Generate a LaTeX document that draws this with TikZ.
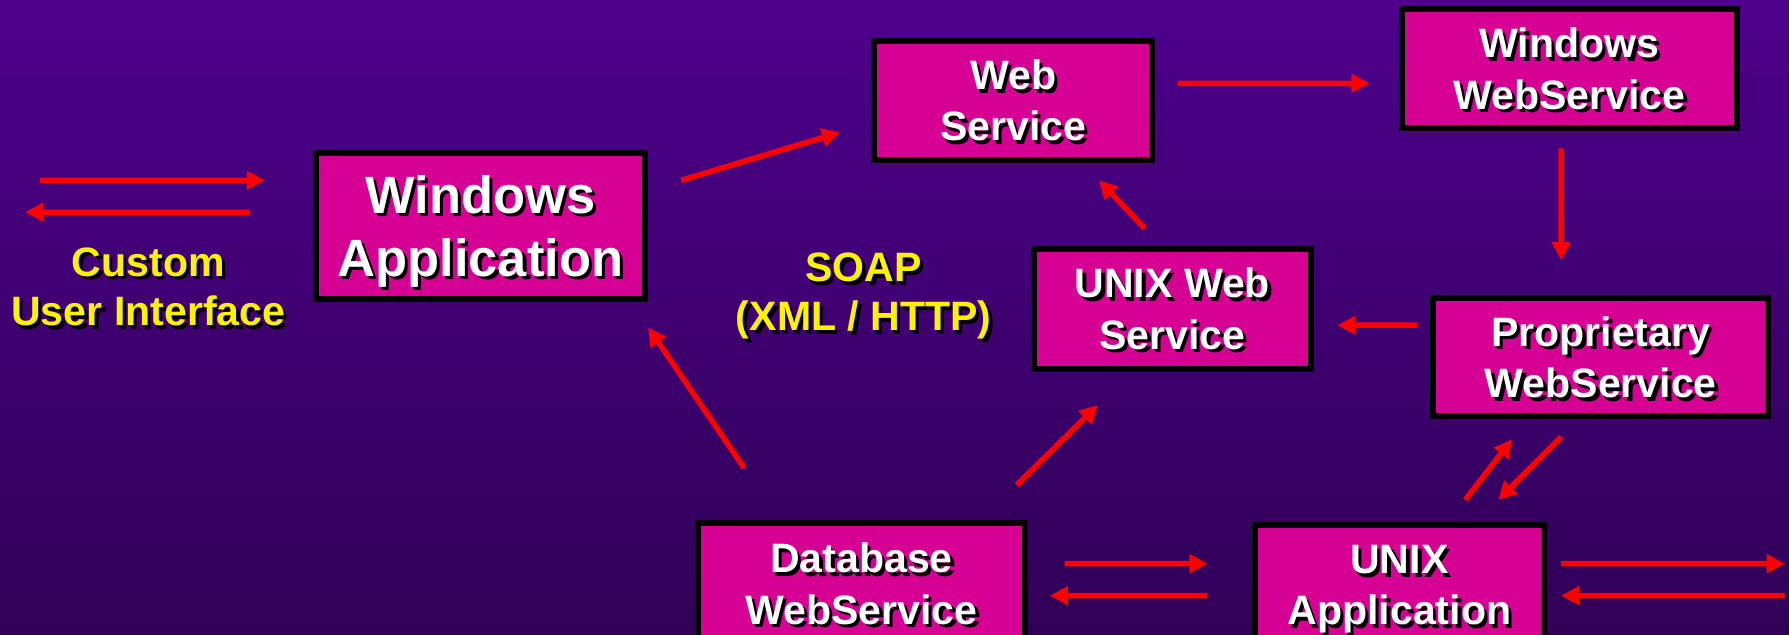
\documentclass[tikz,border=0pt]{standalone}
\usepackage{fontspec}
\setmainfont{Liberation Sans}
\usetikzlibrary{arrows.meta}
\definecolor{bgtop}{RGB}{78,0,140}
\definecolor{bgbot}{RGB}{48,0,86}
\definecolor{boxpink}{RGB}{214,0,147}
\newcommand{\sh}[1]{\rlap{\kern3pt\raisebox{-3pt}{\color{black}#1}}#1}

\begin{document}
\begin{tikzpicture}[x=1pt,y=-1pt,scale=1.14094,transform shape,
	box/.style={draw=black,fill=boxpink,line width=6pt,text=white,font=\bfseries\fontsize{36}{45}\selectfont,align=center,inner sep=0pt,text depth=-12pt},
	lbl/.style={text=yellow,font=\bfseries\fontsize{36}{43}\selectfont,align=center},
	arr/.style={draw=red,line width=5.5pt,-{Triangle[length=18pt,width=18pt]}}]
	\fill[top color=bgtop,bottom color=bgbot] (0,0) rectangle (1568,556.55);
	\useasboundingbox (0,0) rectangle (1568,556.55);
	\node[box,minimum width=288,minimum height=128,text depth=-15pt,font=\bfseries\fontsize{46}{55}\selectfont] (winapp) at (421,198) {\sh{Windows}\\\sh{Application}};
	\node[box,minimum width=244,minimum height=104,text depth=-14pt] (websvc) at (888,88) {\sh{Web}\\\sh{Service}};
	\node[box,minimum width=293,minimum height=104,text depth=-9pt] (winws) at (1375.5,60) {\sh{Windows}\\\sh{WebService}};
	\node[box,minimum width=243,minimum height=105] (unixws) at (1027.5,270.5) {\sh{UNIX Web}\\\sh{Service}};
	\node[box,minimum width=294,minimum height=104,text depth=-9pt] (propws) at (1403,313) {\sh{Proprietary}\\\sh{WebService}};
	\node[box,anchor=north,minimum width=286,inner ysep=18pt,text depth=] (dbws) at (755,455) {\sh{Database}\\\sh{WebService}\\[100pt]\strut};
	\node[box,anchor=north,minimum width=253,inner ysep=18pt,text depth=] (unixapp) at (1226.5,457) {\sh{UNIX}\\\sh{Application}\\[100pt]\strut};
	\node[lbl] (custui) at (130,253) {\sh{Custom}\\\sh{User Interface}};
	\node[lbl] (soap) at (757,261) {\sh{SOAP}\\\sh{(XML / HTTP)}};
	\coordinate (uiA) at (35,158);
	\coordinate (uiB) at (22,186);
	\coordinate (extA) at (1564,494);
	\coordinate (extB) at (1564,522);
	\draw[arr] (uiA) -- ([shift={(-42,-40)}]winapp.west);
	\draw[arr] ([shift={(-56,-12)}]winapp.west) -- (uiB);
	\draw[arr] ([shift={(29,27)}]winapp.north east) -- ([shift={(-27,28)}]websvc.west);
	\draw[arr] ([shift={(19,-15)}]websvc.east) -- ([shift={(-26,13)}]winws.west);
	\draw[arr] ([shift={(-7.5,15)}]winws.south) -- ([shift={(-35,-30)}]propws.north);
	\draw[arr] ([shift={(-11,-28)}]propws.west) -- ([shift={(20,14.5)}]unixws.east);
	\draw[arr] ([shift={(-24.5,-15)}]unixws.north) -- ([shift={(75,15)}]websvc.south);
	\draw[arr] ([shift={(-103,-45)}]dbws.north) -- ([shift={(0,22)}]winapp.south east);
	\draw[arr] ([shift={(-10,-30)}]dbws.north east) -- ([shift={(59,29)}]unixws.south west);
	\draw[arr] ([shift={(57.5,-19)}]unixapp.north) -- ([shift={(-78,17)}]propws.south);
	\draw[arr] ([shift={(-35,15)}]propws.south) -- ([shift={(86.5,-19)}]unixapp.north);
	\draw[arr] ([shift={(32,39)}]dbws.north east) -- ([shift={(-39,37)}]unixapp.north west);
	\draw[arr] ([shift={(-39,65)}]unixapp.north west) -- ([shift={(19,67)}]dbws.north east);
	\draw[arr] ([shift={(12,37)}]unixapp.north east) -- (extA);
	\draw[arr] (extB) -- ([shift={(12,65)}]unixapp.north east);
\end{tikzpicture}
\end{document}
